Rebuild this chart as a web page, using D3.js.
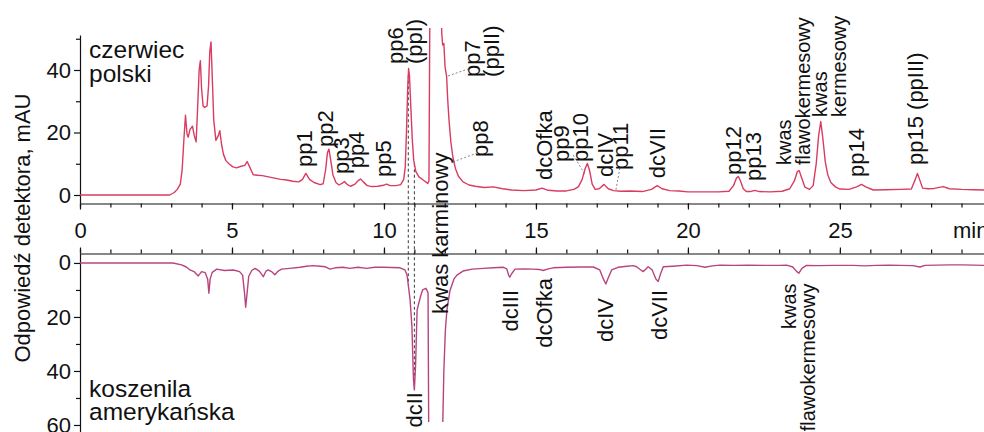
<!DOCTYPE html>
<meta charset="utf-8">
<script src="https://d3js.org/d3.v7.min.js"></script>
<style>
  body { margin: 0; background: #fff; }
  text { font-family: "Liberation Sans", Arial, sans-serif; fill: #111; }
</style>
<svg id="chart" width="984" height="432"></svg>
<script>

// chromatograms: [retention time (min), detector response (mAU)]
const polskiTrace = [[0,0],[2.95,0],[3.1,0.8],[3.2,1.8],[3.3,3.5],[3.36,8],[3.42,18],[3.47,25.5],[3.52,19.5],[3.56,18.5],[3.62,21],[3.7,22],[3.76,19],[3.82,17],[3.87,28],[3.92,40],[3.96,43],[4.0,34],[4.05,28.5],[4.1,28],[4.18,28.5],[4.23,35],[4.27,46],[4.31,49],[4.35,38],[4.4,24],[4.47,17.5],[4.55,19],[4.6,20.6],[4.66,16],[4.72,13],[4.8,11],[4.9,10],[5.03,9],[5.15,8.7],[5.3,9.2],[5.42,9.5],[5.5,10.7],[5.58,9],[5.7,6.5],[5.85,6.3],[6.0,6.2],[6.2,5.8],[6.4,5.4],[6.6,5.0],[6.8,4.8],[7.0,4.4],[7.2,4.2],[7.32,5.0],[7.43,6.9],[7.55,5.0],[7.7,4.0],[7.9,3.3],[8.0,3.6],[8.08,8],[8.14,13.5],[8.19,14.7],[8.25,11],[8.32,6.5],[8.42,4.0],[8.52,3.2],[8.62,3.7],[8.7,4.3],[8.8,3.3],[8.9,2.8],[9.05,3.5],[9.15,4.6],[9.23,5.1],[9.32,4.2],[9.45,3.0],[9.6,2.7],[9.8,2.8],[9.98,3.1],[10.09,3.5],[10.2,3.0],[10.4,3.0],[10.55,3.3],[10.65,5],[10.7,9],[10.74,20],[10.78,34],[10.81,40.5],[10.84,38],[10.88,29],[10.93,18],[10.98,11],[11.05,7.5],[11.15,5.8],[11.3,4.7],[11.44,3.7],[11.48,4.5],[11.51,60],[11.55,300],[11.6,400],[11.85,400],[11.89,60],[11.9,52],[11.93,48],[11.97,48.5],[12.01,41],[12.06,38],[12.1,30],[12.14,24],[12.2,17],[12.27,12],[12.35,8.5],[12.45,6],[12.6,4.2],[12.8,3.2],[13.0,2.8],[13.3,2.4],[13.6,2.6],[13.9,2.0],[14.2,1.6],[14.6,1.4],[15.0,1.6],[15.2,2.2],[15.4,1.5],[15.7,1.3],[16.0,1.3],[16.25,1.8],[16.4,2.7],[16.52,5],[16.62,8.5],[16.69,10.1],[16.76,8],[16.85,3.5],[16.95,1.8],[17.08,2.0],[17.24,3.4],[17.38,2.0],[17.55,1.4],[17.8,1.2],[18.1,1.3],[18.5,1.1],[18.8,1.8],[18.99,3.0],[19.15,2.0],[19.4,1.4],[19.7,1.3],[20.0,1.0],[20.5,1.0],[21.0,1.0],[21.35,1.2],[21.5,3.0],[21.6,5.5],[21.66,5.9],[21.73,4.5],[21.82,2.0],[21.92,1.1],[22.05,1.1],[22.2,1.5],[22.35,1.1],[22.7,1.0],[23.1,1.2],[23.35,2.0],[23.5,4.5],[23.6,7.5],[23.66,7.8],[23.74,5.5],[23.85,2.5],[24.0,1.8],[24.12,3],[24.22,10],[24.3,19],[24.37,23.5],[24.44,18],[24.52,10.5],[24.6,6.5],[24.7,4.0],[24.85,2.6],[25.0,1.9],[25.3,1.8],[25.55,2.6],[25.71,3.4],[25.85,2.6],[26.1,1.6],[26.5,1.7],[27.0,1.8],[27.35,1.9],[27.48,5],[27.55,6.9],[27.62,5],[27.72,2.2],[27.9,2.0],[28.1,2.1],[28.4,2.7],[28.6,2.0],[29.0,1.8],[29.4,1.7],[29.74,1.6]];

const amerykTrace = [[0,0],[3.06,0],[3.34,0.7],[3.5,1.5],[3.62,2.6],[3.75,3.2],[3.89,4.8],[4.0,3.2],[4.12,3.6],[4.2,6],[4.24,11.2],[4.28,6],[4.35,3.5],[4.5,2.3],[4.75,2.8],[5.04,2.6],[5.25,3.2],[5.35,4.5],[5.42,12],[5.45,16.4],[5.49,12],[5.55,5],[5.65,2.8],[5.76,2.0],[5.9,3],[6.03,5.1],[6.12,3.0],[6.19,2.6],[6.3,3.2],[6.41,4.4],[6.52,3.0],[6.63,2.3],[6.9,2.0],[7.24,1.6],[7.45,1.2],[7.67,1.0],[7.9,1.2],[8.06,1.4],[8.22,2.3],[8.4,1.8],[8.65,1.6],[8.88,2.0],[9.15,1.6],[9.43,2.0],[9.7,1.6],[9.98,1.6],[10.25,1.7],[10.53,1.8],[10.69,2.6],[10.76,4.5],[10.86,13.7],[10.92,23.6],[10.97,43],[11.0,47],[11.04,38],[11.09,17.4],[11.2,12.5],[11.27,10],[11.38,9.4],[11.45,11],[11.48,80],[11.52,300],[11.9,300],[11.93,62],[11.97,40],[12.02,25],[12.07,17.5],[12.17,10.3],[12.3,6],[12.4,4.5],[12.6,3.0],[12.9,2.3],[13.27,2.0],[13.6,1.8],[13.93,1.6],[14.04,2.2],[14.1,4.5],[14.14,5.3],[14.2,4],[14.31,2.3],[14.6,2.2],[14.91,2.3],[15.1,2.4],[15.24,2.8],[15.4,2.2],[15.57,1.8],[16.0,1.6],[16.5,1.5],[16.89,1.5],[17.1,2.6],[17.22,6],[17.3,7.8],[17.38,5.5],[17.49,2.6],[17.7,1.6],[18.0,1.2],[18.2,1.0],[18.31,1.4],[18.45,2.6],[18.53,3.2],[18.62,2.2],[18.69,1.4],[18.82,2.5],[18.95,6.0],[19.02,6.9],[19.1,4],[19.19,1.4],[19.5,1.2],[19.96,0.8],[20.3,1.0],[20.56,1.6],[20.8,1.1],[21.05,0.8],[21.5,0.9],[22.0,0.8],[22.5,0.9],[23.0,0.9],[23.25,0.8],[23.45,1.5],[23.58,3.2],[23.65,3.8],[23.75,2.0],[23.9,0.9],[24.3,1.0],[24.8,0.9],[25.44,0.9],[25.8,1.1],[26.2,0.9],[26.6,0.8],[27.0,0.9],[27.4,1.0],[27.63,1.5],[27.8,0.9],[28.2,0.8],[28.6,0.7],[29.0,0.7],[29.4,0.8],[29.74,0.9]];

const xMajorTicks = [0, 5, 10, 15, 20, 25];
const topYTicks = [0, 20, 40];
const topYMinor = [10, 30, 50];
const bottomYTicks = [0, 20, 40, 60];
const bottomYMinor = [10, 30, 50];

// peak names (rotated), anchored at [time, mAU]
const topLabelText = [["pp1"],["pp2"],["pp3"],["pp4"],["pp5"],["pp6","(ppI)"],["pp7","(ppII)"],["pp8"],["dcOfka"],["pp9"],["pp10"],["dcIV"],["pp11"],["dcVII"],["pp12"],["pp13"],["kwas","flawokermesowy"],["kwas","kermesowy"],["pp14"],["pp15 (ppIII)"]];
const topLabelTime = [7.37, 8.06, 8.59, 9.08, 9.97, 10.36, 12.89, 13.16, 15.26, 15.82, 16.45, 17.27, 17.76, 18.98, 21.48, 22.14, 23.16, 24.34, 25.53, 27.47];
const topLabelValue = [9.0, 15.4, 6.7, 8.6, 5.8, 41.9, 37.8, 12.2, 4.8, 10.6, 10.6, 5.8, 8.0, 5.4, 6.4, 4.5, 9.6, 25.0, 5.8, 9.6];

const bottomLabelText = [["dcII"],["dcIII"],["dcOfka"],["dcIV"],["dcVII"],["kwas","flawokermesowy"]];
const bottomLabelTime = [10.99, 14.14, 15.26, 17.27, 19.05, 23.32];
const bottomLabelValue = [47.8, 10, 5.6, 13, 10, 7.6];

// dotted leader lines in the top panel: [t1, v1, t2, v2]
const leaders = [[12.11, 38.1, 12.76, 40.3], [12.27, 10.6, 13.06, 13.4], [16.22, 12.8, 16.61, 6.7], [17.76, 8.6, 17.63, 1.6]];
// dashed lines joining both traces
const linkTimes = [10.8, 11.0];

const svg = d3.select("#chart");

const x = d3.scaleLinear().domain([0, 29.74]).range([80, 984]);
const yTop = d3.scaleLinear().domain([-2.56, 51.2]).range([203, 35]);
const yBot = d3.scaleLinear().domain([-3.5, 62.6]).range([253.5, 432]);

function styleAxis(g) {
    g.selectAll(".domain, line").attr("stroke", "#111").attr("stroke-width", 1.2);
    g.selectAll("text").attr("font-size", 22).attr("font-family", "Liberation Sans, Arial, sans-serif").attr("fill", "#111");
}

// x axes
svg.append("g").attr("transform", "translate(0,203.5)")
    .call(d3.axisBottom(x).tickValues(d3.range(0, 30)).tickSize(4).tickSizeOuter(0).tickFormat(""))
    .call(styleAxis);
svg.append("g").attr("transform", "translate(0,203.5)")
    .call(d3.axisBottom(x).tickValues(xMajorTicks).tickSize(6).tickSizeOuter(0).tickPadding(13))
    .call(g => g.select(".domain").remove())
    .call(styleAxis);
svg.append("g").attr("transform", "translate(0,253.5)")
    .call(d3.axisTop(x).tickValues(d3.range(0, 30)).tickSize(4).tickSizeOuter(0).tickFormat(""))
    .call(styleAxis);
svg.append("g").attr("transform", "translate(0,253.5)")
    .call(d3.axisTop(x).tickValues(xMajorTicks).tickSize(6).tickSizeOuter(0).tickFormat(""))
    .call(g => g.select(".domain").remove())
    .call(styleAxis);

svg.append("text").attr("x", 953).attr("y", 238).attr("font-size", 22).text("min");

// y axes
svg.append("g").attr("transform", "translate(80,0)")
    .call(d3.axisLeft(yTop).tickValues(topYTicks).tickSize(6).tickSizeOuter(0).tickPadding(3))
    .call(styleAxis);
svg.append("g").attr("transform", "translate(80,0)")
    .call(d3.axisLeft(yTop).tickValues(topYMinor).tickSize(4).tickSizeOuter(0).tickFormat(""))
    .call(g => g.select(".domain").remove())
    .call(styleAxis);
svg.append("g").attr("transform", "translate(80,0)")
    .call(d3.axisLeft(yBot).tickValues(bottomYTicks).tickSize(6).tickSizeOuter(0).tickPadding(3))
    .call(styleAxis);
svg.append("g").attr("transform", "translate(80,0)")
    .call(d3.axisLeft(yBot).tickValues(bottomYMinor).tickSize(4).tickSizeOuter(0).tickFormat(""))
    .call(g => g.select(".domain").remove())
    .call(styleAxis);

svg.append("text")
    .attr("transform", "translate(30,228) rotate(-90)")
    .attr("text-anchor", "middle")
    .attr("font-size", 22)
    .text("Odpowiedź detektora, mAU");

// clip regions
const defs = svg.append("defs");
defs.append("clipPath").attr("id", "clipTop").append("rect")
    .attr("x", 80).attr("y", 28).attr("width", 904).attr("height", 175);
defs.append("clipPath").attr("id", "clipBot").append("rect")
    .attr("x", 80).attr("y", 254).attr("width", 904).attr("height", 168);

// interpolate a trace at time t
function valueAt(trace, t) {
    const i = d3.bisector(d => d[0]).left(trace, t);
    if (i <= 0) return trace[0][1];
    const a = trace[i - 1], b = trace[i];
    return a[1] + (t - a[0]) / (b[0] - a[0]) * (b[1] - a[1]);
}

// dashed connectors
svg.selectAll(".link")
    .data(linkTimes)
    .enter().append("line")
        .attr("x1", d => x(d)).attr("x2", d => x(d))
        .attr("y1", d => yTop(valueAt(polskiTrace, d)))
        .attr("y2", d => yBot(valueAt(amerykTrace, d)))
        .attr("stroke", "#222")
        .attr("stroke-width", 0.9)
        .attr("stroke-dasharray", "3,2.5");

// leader lines
svg.selectAll(".leader")
    .data(leaders)
    .enter().append("line")
        .attr("x1", d => x(d[0])).attr("y1", d => yTop(d[1]))
        .attr("x2", d => x(d[2])).attr("y2", d => yTop(d[3]))
        .attr("stroke", "#777")
        .attr("stroke-width", 0.9)
        .attr("stroke-dasharray", "2,2");

// traces
svg.append("path")
    .datum(polskiTrace)
    .attr("clip-path", "url(#clipTop)")
    .attr("d", d3.line().x(d => x(d[0])).y(d => yTop(d[1])))
    .attr("fill", "none")
    .attr("stroke", "#d83c62")
    .attr("stroke-width", 1.4)
    .attr("stroke-linejoin", "round");

svg.append("path")
    .datum(amerykTrace)
    .attr("clip-path", "url(#clipBot)")
    .attr("d", d3.line().x(d => x(d[0])).y(d => yBot(d[1])))
    .attr("fill", "none")
    .attr("stroke", "#b8447f")
    .attr("stroke-width", 1.4)
    .attr("stroke-linejoin", "round");

// rotated peak labels; long two-word names are set a little smaller
function rotatedLabel(px, py, lines, anchor) {
    const size = lines.length > 1 && lines[0] === "kwas" ? 20 : 22;
    const t = svg.append("text")
        .attr("transform", `translate(${px},${py}) rotate(-90)`)
        .attr("text-anchor", anchor)
        .attr("font-size", size);
    lines.forEach((s, i) => t.append("tspan").attr("x", 0).attr("dy", i === 0 ? "0.35em" : 19).text(s));
}

topLabelText.forEach((lines, i) => rotatedLabel(x(topLabelTime[i]), yTop(topLabelValue[i]), lines, "start"));
bottomLabelText.forEach((lines, i) => rotatedLabel(x(bottomLabelTime[i]), yBot(bottomLabelValue[i]), lines, "end"));
rotatedLabel(x(11.84), yBot(18.9), ["kwas karminowy"], "start");

// sample names
svg.append("text").attr("x", 89).attr("y", 58).attr("font-size", 24.5).text("czerwiec");
svg.append("text").attr("x", 89).attr("y", 82).attr("font-size", 24.5).text("polski");
svg.append("text").attr("x", 89).attr("y", 397).attr("font-size", 24.5).text("koszenila");
svg.append("text").attr("x", 89).attr("y", 420).attr("font-size", 24.5).text("amerykańska");

</script>
